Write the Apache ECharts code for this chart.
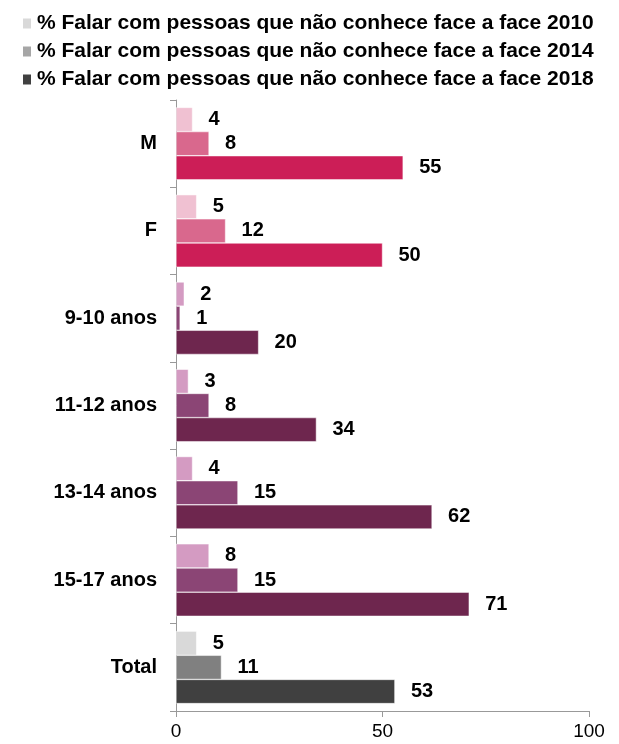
<!DOCTYPE html>
<html><head><meta charset="utf-8">
<script src="https://cdn.jsdelivr.net/npm/echarts@6/dist/echarts.min.js"></script>
<style>html,body{margin:0;padding:0;background:#fff}#c{width:619px;height:744px}</style>
</head><body><div id="c"></div>
<script>
const categories = ['M', 'F', '9-10 anos', '11-12 anos', '13-14 anos', '15-17 anos', 'Total'];
const seriesNames = [
  '% Falar com pessoas que não conhece face a face 2010',
  '% Falar com pessoas que não conhece face a face 2014',
  '% Falar com pessoas que não conhece face a face 2018'
];
const values2010 = [4, 5, 2, 3, 4, 8, 5];
const values2014 = [8, 12, 1, 8, 15, 15, 11];
const values2018 = [55, 50, 20, 34, 62, 71, 53];
const xTicks = [0, 50, 100];

const legendColors = ['#D9D9D9', '#A6A6A6', '#404040'];
const genderColors = ['#F0C1D2', '#D9688D', '#CC1E57'];
const ageColors = ['#D49BC2', '#8B4575', '#6E264E'];
const totalColors = ['#D9D9D9', '#808080', '#404040'];
function colorFor(catIdx, sIdx) {
  if (catIdx < 2) return genderColors[sIdx];
  if (catIdx < 6) return ageColors[sIdx];
  return totalColors[sIdx];
}
const allValues = [values2010, values2014, values2018];
const FONT = 'Liberation Sans, Arial, sans-serif';

const chart = echarts.init(document.getElementById('c'));
chart.setOption({
  animation: false,
  legend: {
    orient: 'vertical', left: 16, top: 8,
    itemWidth: 10, itemHeight: 12, itemGap: 7,
    icon: 'rect',
    textStyle: { fontFamily: FONT, fontSize: 21, fontWeight: 'bold', color: '#000', lineHeight: 21 },
    data: seriesNames
  },
  grid: { left: 176, right: 30, top: 100, bottom: 33 },
  xAxis: {
    type: 'value', min: 0, max: 100, interval: 50,
    axisLine: { show: true, lineStyle: { color: '#999' } },
    axisTick: { show: true, length: 6, lineStyle: { color: '#999' } },
    splitLine: { show: false },
    axisLabel: { fontFamily: FONT, fontSize: 19, color: '#000', margin: 11,
      formatter: v => xTicks.includes(v) ? String(v) : '' }
  },
  yAxis: {
    type: 'category', data: categories, inverse: true,
    axisLine: { show: true, lineStyle: { color: '#999' } },
    axisTick: { show: true, length: 6, lineStyle: { color: '#999' } },
    axisLabel: { fontFamily: FONT, fontSize: 20, fontWeight: 'bold', color: '#000', margin: 19 }
  },
  series: allValues.map((vals, sIdx) => ({
    name: seriesNames[sIdx],
    type: 'bar',
    barGap: '0%',
    barCategoryGap: '17%',
    itemStyle: { color: legendColors[sIdx], borderColor: '#fff', borderWidth: 0.5 },
    label: { show: true, position: 'right', distance: 16, fontFamily: FONT, fontSize: 20, fontWeight: 'bold', color: '#000' },
    data: vals.map((v, i) => ({ value: v, itemStyle: { color: colorFor(i, sIdx) } }))
  }))
});
</script></body></html>
